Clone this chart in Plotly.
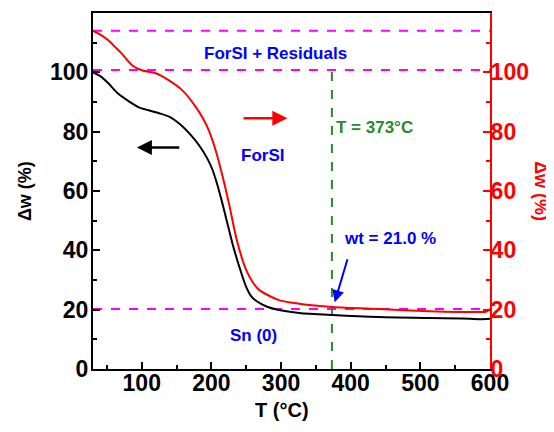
import plotly.graph_objects as go

# Data
T_black = [30, 40, 52, 65, 81, 96, 110, 125, 140, 155, 168, 182, 194, 201, 208, 215, 222,
           230, 240, 250, 257, 264, 280, 297, 326, 374, 441, 513, 560, 586, 600]
W_black = [100, 98.8, 96.3, 93, 90.3, 88.2, 87.2, 86.2, 85, 82.5, 79.5, 75.5, 71, 67.5, 62.5, 56.5, 50,
           42.5, 34.5, 27.6, 24.6, 23.0, 21, 19.9, 18.9, 18.2, 17.5, 17.2, 17.0, 16.8, 16.9]

T_red = [30, 40, 52, 62, 71, 86, 100, 120, 139, 158, 178, 189, 197, 207, 216, 225, 237,
         250, 260, 269, 297, 326, 374, 441, 513, 586, 595, 600]
W_red = [114, 112.8, 110.8, 108.5, 106.4, 102.4, 100.7, 99.7, 97.3, 94, 88.2, 84, 80, 73, 65, 56, 43,
         33.3, 29, 26.6, 23.2, 22.0, 20.9, 20.2, 19.5, 19.2, 19.4, 20]

ref_levels = [114, 100.8, 20.2]   # magenta dashed guide lines
T_onset = 373
x_ticks = [100, 200, 300, 400, 500, 600]
y_ticks = [0, 20, 40, 60, 80, 100]

FONT = "Liberation Sans"
fig = go.Figure()

for lv in ref_levels:
    fig.add_trace(go.Scatter(x=[30, 600], y=[lv, lv], mode="lines",
                             line=dict(color="#ff00ff", width=2, dash="dash"),
                             showlegend=False, hoverinfo="skip"))

fig.add_trace(go.Scatter(x=[T_onset, T_onset], y=[0, 100.8], mode="lines",
                         line=dict(color="#2a8a2a", width=2, dash="dash"),
                         showlegend=False))

fig.add_trace(go.Scatter(x=T_black, y=W_black, mode="lines",
                         line=dict(color="black", width=2, shape="spline", smoothing=0.8),
                         showlegend=False))
fig.add_trace(go.Scatter(x=T_red, y=W_red, mode="lines", yaxis="y2",
                         line=dict(color="red", width=2, shape="spline", smoothing=0.8),
                         showlegend=False))

bold = dict(family=FONT, size=17, color="blue")
ann = [
    dict(x=292, y=106.4, text="<b>ForSI + Residuals</b>", showarrow=False, font=bold),
    dict(x=273, y=72, text="<b>ForSI</b>", showarrow=False, font=bold),
    dict(x=434, y=81.5, text="<b>T = 373°C</b>", showarrow=False,
         font=dict(family=FONT, size=17, color="#2a8a2a")),
    dict(x=457, y=44, text="<b>wt = 21.0 %</b>", showarrow=False, font=bold),
    dict(x=260, y=11.4, text="<b>Sn (0)</b>", showarrow=False, font=bold),
    # arrows
    dict(x=377, y=22.5, ax=396, ay=37.5, axref="x", ayref="y", xref="x", yref="y",
         text="", showarrow=True, arrowhead=2, arrowsize=1.2, arrowwidth=2, arrowcolor="blue"),
    dict(x=309, y=84.5, ax=244, ay=84.5, axref="x", ayref="y", xref="x", yref="y",
         text="", showarrow=True, arrowhead=2, arrowsize=1.2, arrowwidth=2.5, arrowcolor="red"),
    dict(x=93, y=74.7, ax=156, ay=74.7, axref="x", ayref="y", xref="x", yref="y",
         text="", showarrow=True, arrowhead=2, arrowsize=1.2, arrowwidth=2.5, arrowcolor="black"),
    # axis titles
    dict(x=-0.171, y=0.5, xref="paper", yref="paper", text="<b>Δw (%)</b>", showarrow=False,
         xanchor="center", yanchor="middle",
         textangle=-90, font=dict(family=FONT, size=18, color="black")),
    dict(x=1.128, y=0.5, xref="paper", yref="paper", text="<b>Δw (%)</b>", showarrow=False,
         xanchor="center", yanchor="middle",
         textangle=90, font=dict(family=FONT, size=18, color="red")),
    dict(x=0.476, y=-0.115, xref="paper", yref="paper", text="<b>T (°C)</b>", showarrow=False,
         xanchor="center", yanchor="middle", font=dict(family=FONT, size=20, color="black")),
]

tickfont_k = dict(family=FONT, size=23, color="black", weight="bold")
fig.update_layout(
    width=554, height=432,
    margin=dict(l=85, r=72, t=5, b=71, autoexpand=False),
    plot_bgcolor="white", paper_bgcolor="white",
    font=dict(family=FONT),
    annotations=ann,
    xaxis=dict(range=[30, 600], tickvals=x_ticks, ticks="inside", ticklen=7, tickwidth=2,
               tickcolor="black", showline=True, linecolor="black", linewidth=2, mirror=True,
               showgrid=False, zeroline=False, ticklabelstandoff=-8, automargin=False,
               minor=dict(dtick=50, tick0=0, ticks="inside", ticklen=4, tickwidth=2, tickcolor="black"),
               tickfont=tickfont_k),
    yaxis=dict(range=[0, 120], tickvals=y_ticks, ticks="inside", ticklen=7, tickwidth=2,
               tickcolor="black", showline=True, linecolor="black", linewidth=2,
               showgrid=False, zeroline=False, ticklabelstandoff=-2, automargin=False,
               minor=dict(dtick=10, tick0=0, ticks="inside", ticklen=4, tickwidth=2, tickcolor="black"),
               tickfont=tickfont_k),
    yaxis2=dict(range=[0, 120], tickvals=y_ticks, overlaying="y", side="right",
                ticks="inside", ticklen=7, tickwidth=2, tickcolor="red",
                showline=True, linecolor="red", linewidth=2, showgrid=False, zeroline=False,
                ticklabelstandoff=-6, automargin=False,
                minor=dict(dtick=10, tick0=0, ticks="inside", ticklen=4, tickwidth=2, tickcolor="red"),
                tickfont=dict(family=FONT, size=23, color="red", weight="bold")),
)

fig.write_html("out.html")
